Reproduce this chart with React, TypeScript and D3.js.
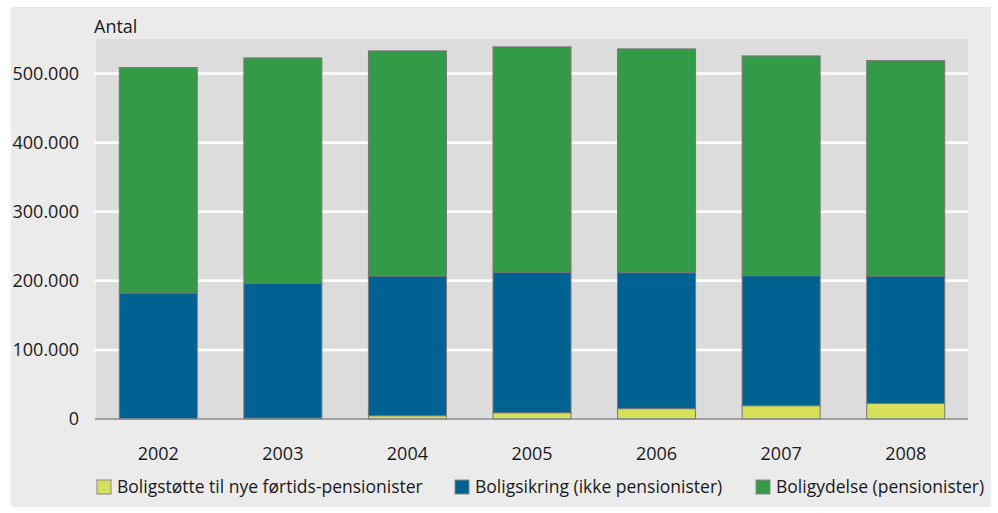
import * as d3 from "d3";

const years = ["2002", "2003", "2004", "2005", "2006", "2007", "2008"];
// Boligstøtte til nye førtids-pensionister
const foertid = [0, 1000, 4800, 9100, 15000, 19300, 22700];
// Boligsikring (ikke pensionister)
const sikring = [182400, 195400, 202200, 203300, 196800, 188200, 184300];
// Boligydelse (pensionister)
const ydelse = [326200, 326200, 325800, 326200, 323900, 318000, 311700];

const yTicks = [0, 100000, 200000, 300000, 400000, 500000];

const seriesNames = [
  "Boligstøtte til nye førtids-pensionister",
  "Boligsikring (ikke pensionister)",
  "Boligydelse (pensionister)",
];
const colors = ["#d6e05a", "#006193", "#339a48"];

const W = 998;
const H = 513;
const margin = { top: 39, right: 30, bottom: 94, left: 96 };
const font = "'Open Sans', sans-serif";

export default function App() {
  const innerW = W - margin.left - margin.right;
  const innerH = H - margin.top - margin.bottom;

  const x = d3.scaleBand().domain(years).range([0, innerW]).paddingInner(0.374).paddingOuter(0.187);
  const y = d3.scaleLinear().domain([0, 550000]).range([innerH, 0]);

  const rows = years.map((yr, i) => ({ year: yr, a: foertid[i], b: sikring[i], c: ydelse[i] }));
  const stack = d3.stack<any>().keys(["a", "b", "c"])(rows);

  const fmt = (v: number) => (v === 0 ? "0" : d3.format(",")(v).replace(/,/g, "."));

  const legendX = [97, 455, 756];

  return (
    <div style={{ position: "absolute", left: 0, top: 0 }}>
      <svg width={W} height={H} style={{ display: "block", fontFamily: font }}>
        <rect x={0} y={0} width={W} height={H} fill="#ffffff" />
        <rect x={11} y={7} width={980} height={500} fill="#ebebeb" />
        <g transform={`translate(${margin.left},${margin.top})`}>
          <rect x={0} y={0} width={innerW} height={innerH} fill="#dcdcdc" />
          {yTicks.map((t) => (
            <g key={t}>
              {t > 0 && (
                <line x1={-2} x2={innerW} y1={y(t)} y2={y(t)} stroke="#ffffff" strokeWidth={2.5} />
              )}
              <text
                x={-17}
                y={y(t)}
                dy="0.35em"
                textAnchor="end"
                fontSize={18}
                fill="#1a1a1a"
              >
                {fmt(t)}
              </text>
            </g>
          ))}
          {stack.map((s, si) =>
            s.map((d, i) => {
              const h = y(d[0]) - y(d[1]);
              if (h <= 0) return null;
              return (
                <rect
                  key={`${si}-${i}`}
                  x={x(years[i])}
                  y={y(d[1])}
                  width={x.bandwidth()}
                  height={h}
                  fill={colors[si]}
                  stroke="#777777"
                  strokeWidth={1}
                />
              );
            })
          )}
          <line x1={-1} x2={innerW} y1={innerH} y2={innerH} stroke="#8a8a8a" strokeWidth={1.5} />
          {years.map((yr) => (
            <text
              key={yr}
              x={(x(yr) as number) + x.bandwidth() / 2}
              y={innerH + 41}
              textAnchor="middle"
              fontSize={18}
              fill="#1a1a1a"
            >
              {yr}
            </text>
          ))}
          <text x={-2} y={-6} fontSize={18} fill="#1a1a1a">
            Antal
          </text>
        </g>
        {seriesNames.map((name, i) => (
          <g key={name} transform={`translate(${legendX[i]},480)`}>
            <rect x={0} y={0} width={14} height={14} fill={colors[i]} stroke="#888888" strokeWidth={1} />
            <text x={20} y={7} dy="0.35em" fontSize={17.5} fill="#1a1a1a">
              {name}
            </text>
          </g>
        ))}
      </svg>
    </div>
  );
}
